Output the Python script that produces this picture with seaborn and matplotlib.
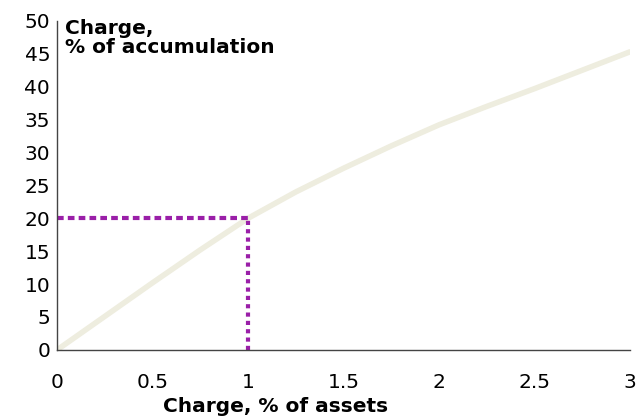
import matplotlib
matplotlib.use('Agg')
import matplotlib.pyplot as plt
import seaborn as sns
import pandas as pd

# values
charge_assets = [0, 0.25, 0.5, 0.75, 1.0, 1.25, 1.5, 1.75, 2.0, 2.25, 2.5, 2.75, 3.0]
charge_accum = [0, 5.1, 10.2, 15.2, 20.0, 24.0, 27.6, 31.0, 34.2, 37.0, 39.7, 42.5, 45.3]
marker_x = 1.0
marker_y = 20.0
x_ticks = [0, 0.5, 1, 1.5, 2, 2.5, 3]
x_tick_labels = ['0', '0.5', '1', '1.5', '2', '2.5', '3']
y_ticks = [0, 5, 10, 15, 20, 25, 30, 35, 40, 45, 50]

df = pd.DataFrame({'assets': charge_assets, 'accum': charge_accum})

sns.set_style('white')
plt.rcParams['font.family'] = ['DejaVu Sans']

fig, ax = plt.subplots(figsize=(6.42, 4.19), dpi=100)
fig.subplots_adjust(left=0.089, right=0.981, top=0.95, bottom=0.165)

sns.lineplot(data=df, x='assets', y='accum', ax=ax, color='#eeeddf', linewidth=4)

ax.plot([0, marker_x], [marker_y, marker_y], color='#9a1fa8', linestyle=(0, (1.6, 1.0)), linewidth=3)
ax.plot([marker_x, marker_x], [0, marker_y], color='#9a1fa8', linestyle=(0, (1, 1)), linewidth=3)

ax.set_xlim(0, 3)
ax.set_ylim(0, 50)
ax.set_xticks(x_ticks)
ax.set_xticklabels(x_tick_labels)
ax.set_yticks(y_ticks)
ax.tick_params(axis='x', direction='in', length=5, width=1, labelsize=14.5, pad=17,
               color='#444444', labelcolor='black')
ax.tick_params(axis='y', direction='out', length=4, width=1, labelsize=14.5, pad=1,
               color='#444444', labelcolor='black')

for s in ['top', 'right']:
    ax.spines[s].set_visible(False)
for s in ['left', 'bottom']:
    ax.spines[s].set_color('#444444')
    ax.spines[s].set_linewidth(1)

ax.set_xlabel('Charge, % of assets', fontsize=14.5, fontweight='bold', color='black')
ax.xaxis.set_label_coords(0.382, -0.143)
ax.set_ylabel('')
ax.text(0.014, 1.005, 'Charge,\n% of accumulation', transform=ax.transAxes,
        fontsize=14.5, fontweight='bold', va='top', ha='left', linespacing=0.95, color='black')

fig.savefig('out.png', dpi=100)
